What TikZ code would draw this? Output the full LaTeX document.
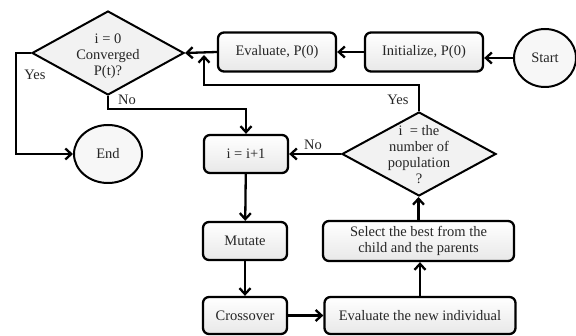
\documentclass[tikz,border=0pt]{standalone}
\usepackage{fontspec}
\setmainfont{Liberation Serif}
\usetikzlibrary{shapes.geometric,arrows.meta}

\begin{document}
\begin{tikzpicture}[x=1pt,y=-1pt,
  txt/.style={font=\fontsize{14.5}{16}\selectfont, text=black!85},
  box/.style={txt, draw, line width=2.3pt, rounded corners=6pt, top color=white, bottom color=black!9, align=center, inner sep=0pt},
  term/.style={txt, draw, ellipse, line width=2pt, fill=black!3, inner sep=0pt},
  cond/.style={draw, diamond, line width=2pt, fill=black!5, inner sep=0pt},
  words/.style={txt, align=center, inner sep=0pt},
  tag/.style={txt, inner sep=1pt},
  flow/.style={line width=2.3pt, -{Straight Barb[length=6pt,width=11pt]}}]

\useasboundingbox (0,0) rectangle (576,336);

\node[term, minimum width=62, minimum height=58] (F_start) at (545,58) {Start};
\node[box, minimum width=118, minimum height=39] (F_init) at (424,52) {Initialize, P(0)};
\node[box, minimum width=118, minimum height=39] (F_eval) at (277,52) {Evaluate, P(0)};
\node[cond, minimum width=152, minimum height=84] (F_conv) at (108,53) {};
\node[words] (T_conv) at (108,56) {i = 0\\Converged\\P(t)?};
\node[term, minimum width=68, minimum height=58] (F_end) at (108,154) {End};

\node[box, minimum width=84, minimum height=38] (F_inc) at (246,154) {i = i+1};
\node[box, minimum width=84, minimum height=38] (F_mut) at (245,241) {Mutate};
\node[box, minimum width=84, minimum height=37] (F_cross) at (245,315.5) {Crossover};
\node[box, minimum width=191, minimum height=37] (F_evnew) at (420,315.5) {Evaluate the new individual};
\node[box, minimum width=191, minimum height=40] (F_sel) at (418.5,241) {Select the best from the\\child and the parents};
\node[cond, minimum width=154, minimum height=84] (F_pop) at (419,154) {};
\node[words] (T_pop) at (419,155) {i~ = the\\number of\\population\\?};

\coordinate (c_fb) at (204,55);

\draw[flow] (F_start.west) -- (F_start.west -| F_init.east);
\draw[flow] (F_init.west) -- (F_eval.east);
\draw[flow] (F_eval.west) -- (F_conv.east);
\draw[flow] (F_pop.north) -- ++(0,-26) -| (c_fb);
\draw[flow] (F_conv.south) -- ++(0,13) -| (F_inc.north);
\draw[flow] (F_conv.west) -- ++(-15,0) |- (F_end.west);
\draw[flow] (F_pop.west) -- (F_pop.west -| F_inc.east);
\draw[flow] (F_inc) -- (F_mut);
\draw[flow] (F_mut) -- (F_cross);
\draw[flow] (F_cross) -- (F_evnew);
\draw[flow] (F_evnew.north) -- (F_evnew.north |- F_sel.south);
\draw[flow] (F_sel.north) -- (F_sel.north |- F_pop.south);

\node[tag] (L_yes1) at (35,75) {Yes};
\node[tag] (L_no1) at (127,100) {No};
\node[tag] (L_yes2) at (398,100) {Yes};
\node[tag] (L_no2) at (313,145) {No};

\end{tikzpicture}
\end{document}
